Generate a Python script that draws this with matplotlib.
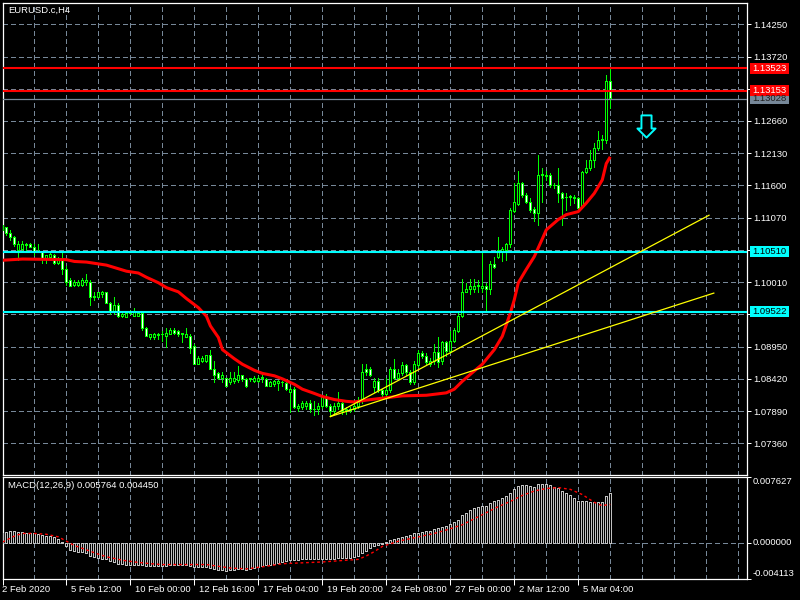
import matplotlib
matplotlib.use('Agg')
import matplotlib.pyplot as plt
import numpy as np
from matplotlib.path import Path
from matplotlib.patches import Rectangle
from matplotlib.transforms import blended_transform_factory, offset_copy, IdentityTransform

plt.rcParams['font.family'] = ['Liberation Sans', 'DejaVu Sans']

# ---------------- data ----------------
symbol_title = "EURUSD.c,H4"
macd_title = "MACD(12,26,9) 0.005764 0.004450"

opens = [1.1094, 1.1091, 1.1082, 1.1076, 1.1054, 1.1056, 1.1062, 1.1064, 1.1059, 1.1050,
         1.1051, 1.1041, 1.1043, 1.1046, 1.1033, 1.1040, 1.1023, 1.1004, 1.0997, 1.0997,
         1.0997, 1.1002, 1.1002, 1.0976, 1.0977, 1.0981, 1.0984, 1.0967, 1.0954, 1.0964,
         1.0945, 1.0943, 1.0951, 1.0946, 1.0946, 1.0951, 1.0925, 1.0910, 1.0910, 1.0914,
         1.0915, 1.0913, 1.0916, 1.0922, 1.0920, 1.0916, 1.0911, 1.0913, 1.0896, 1.0867,
         1.0871, 1.0871, 1.0881, 1.0859, 1.0851, 1.0844, 1.0843, 1.0836, 1.0838, 1.0840,
         1.0848, 1.0841, 1.0843, 1.0838, 1.0838, 1.0845, 1.0841, 1.0831, 1.0833, 1.0835,
         1.0836, 1.0835, 1.0820, 1.0825, 1.0794, 1.0795, 1.0798, 1.0803, 1.0792, 1.0792,
         1.0797, 1.0812, 1.0797, 1.0789, 1.0797, 1.0803, 1.0790, 1.0791, 1.0792, 1.0797,
         1.0805, 1.0859, 1.0859, 1.0828, 1.0839, 1.0823, 1.0817, 1.0823, 1.0858, 1.0844,
         1.0851, 1.0864, 1.0853, 1.0836, 1.0864, 1.0884, 1.0880, 1.0867, 1.0871, 1.0886,
         1.0871, 1.0902, 1.0887, 1.0905, 1.0921, 1.0945, 1.0985, 1.0989, 1.0989, 1.0995,
         1.0992, 1.0995, 1.0989, 1.1031, 1.1043, 1.1051, 1.1054, 1.1063, 1.1118, 1.1130,
         1.1164, 1.1145, 1.1133, 1.1122, 1.1115, 1.1177, 1.1176, 1.1177, 1.1161, 1.1161,
         1.1148, 1.1141, 1.1141, 1.1140, 1.1140, 1.1125, 1.1182, 1.1189, 1.1202, 1.1222,
         1.1235, 1.1235, 1.1332]
highs = [1.1095, 1.1092, 1.1087, 1.1077, 1.1068, 1.1068, 1.1066, 1.1066, 1.1063, 1.1063,
         1.1053, 1.1046, 1.1050, 1.1048, 1.1043, 1.1049, 1.1027, 1.1007, 1.1004, 1.1004,
         1.1007, 1.1015, 1.1005, 1.0985, 1.0985, 1.0987, 1.0985, 1.0969, 1.0977, 1.0967,
         1.0951, 1.0953, 1.0956, 1.0959, 1.0953, 1.0953, 1.0927, 1.0915, 1.0918, 1.0918,
         1.0920, 1.0926, 1.0926, 1.0925, 1.0922, 1.0918, 1.0926, 1.0915, 1.0899, 1.0879,
         1.0879, 1.0882, 1.0890, 1.0871, 1.0854, 1.0853, 1.0844, 1.0853, 1.0853, 1.0863,
         1.0849, 1.0844, 1.0844, 1.0846, 1.0846, 1.0849, 1.0843, 1.0838, 1.0840, 1.0840,
         1.0838, 1.0836, 1.0828, 1.0828, 1.0800, 1.0805, 1.0805, 1.0808, 1.0805, 1.0803,
         1.0813, 1.0817, 1.0800, 1.0803, 1.0821, 1.0805, 1.0795, 1.0795, 1.0800, 1.0812,
         1.0866, 1.0866, 1.0861, 1.0844, 1.0844, 1.0826, 1.0844, 1.0861, 1.0874, 1.0858,
         1.0869, 1.0867, 1.0856, 1.0871, 1.0890, 1.0887, 1.0884, 1.0877, 1.0899, 1.0910,
         1.0904, 1.0905, 1.0920, 1.0926, 1.0951, 1.1006, 1.1000, 1.1006, 1.1006, 1.1005,
         1.1051, 1.1000, 1.1035, 1.1043, 1.1075, 1.1059, 1.1066, 1.1123, 1.1164, 1.1184,
         1.1166, 1.1148, 1.1140, 1.1125, 1.1210, 1.1189, 1.1184, 1.1181, 1.1164, 1.1189,
         1.1150, 1.1148, 1.1145, 1.1145, 1.1141, 1.1184, 1.1202, 1.1218, 1.1230, 1.1250,
         1.1243, 1.1341, 1.1351]
lows = [1.1086, 1.1079, 1.1071, 1.1061, 1.1038, 1.1054, 1.1054, 1.1058, 1.1046, 1.1050,
        1.1033, 1.1033, 1.1041, 1.1031, 1.1031, 1.1015, 1.0997, 1.0994, 1.0995, 1.0994,
        1.0994, 1.0997, 1.0964, 1.0972, 1.0976, 1.0977, 1.0966, 1.0948, 1.0948, 1.0943,
        1.0943, 1.0943, 1.0948, 1.0945, 1.0945, 1.0922, 1.0912, 1.0908, 1.0908, 1.0907,
        1.0905, 1.0894, 1.0915, 1.0915, 1.0912, 1.0902, 1.0910, 1.0885, 1.0866, 1.0866,
        1.0869, 1.0869, 1.0858, 1.0836, 1.0841, 1.0836, 1.0830, 1.0833, 1.0835, 1.0836,
        1.0838, 1.0828, 1.0838, 1.0836, 1.0836, 1.0836, 1.0830, 1.0830, 1.0831, 1.0823,
        1.0830, 1.0823, 1.0787, 1.0794, 1.0789, 1.0792, 1.0792, 1.0787, 1.0782, 1.0784,
        1.0794, 1.0795, 1.0781, 1.0785, 1.0792, 1.0785, 1.0785, 1.0787, 1.0789, 1.0794,
        1.0803, 1.0849, 1.0846, 1.0820, 1.0820, 1.0813, 1.0813, 1.0820, 1.0841, 1.0841,
        1.0848, 1.0849, 1.0833, 1.0833, 1.0861, 1.0877, 1.0866, 1.0863, 1.0867, 1.0861,
        1.0867, 1.0879, 1.0885, 1.0903, 1.0919, 1.0943, 1.0984, 1.0981, 1.0985, 1.0984,
        1.0984, 1.0953, 1.0981, 1.1024, 1.1040, 1.1035, 1.1038, 1.1059, 1.1117, 1.1128,
        1.1141, 1.1131, 1.1117, 1.1102, 1.1095, 1.1133, 1.1169, 1.1158, 1.1156, 1.1133,
        1.1095, 1.1120, 1.1128, 1.1131, 1.1122, 1.1123, 1.1180, 1.1185, 1.1190, 1.1218,
        1.1220, 1.1230, 1.1287]
closes = [1.1089, 1.1081, 1.1076, 1.1064, 1.1064, 1.1064, 1.1063, 1.1059, 1.1051, 1.1053,
          1.1041, 1.1045, 1.1048, 1.1033, 1.1041, 1.1022, 1.1002, 1.0995, 1.1002, 1.1002,
          1.1004, 1.1004, 1.0976, 1.0979, 1.0984, 1.0984, 1.0967, 1.0953, 1.0964, 1.0946,
          1.0949, 1.0951, 1.0953, 1.0954, 1.0951, 1.0925, 1.0913, 1.0915, 1.0916, 1.0915,
          1.0916, 1.0918, 1.0923, 1.0918, 1.0915, 1.0917, 1.0916, 1.0893, 1.0867, 1.0877,
          1.0877, 1.0881, 1.0859, 1.0849, 1.0844, 1.0848, 1.0831, 1.0843, 1.0843, 1.0848,
          1.0841, 1.0830, 1.0842, 1.0843, 1.0843, 1.0844, 1.0831, 1.0836, 1.0838, 1.0838,
          1.0837, 1.0825, 1.0826, 1.0795, 1.0797, 1.0802, 1.0803, 1.0792, 1.0793, 1.0798,
          1.0812, 1.0797, 1.0789, 1.0797, 1.0803, 1.0789, 1.0792, 1.0792, 1.0797, 1.0807,
          1.0853, 1.0853, 1.0848, 1.0839, 1.0823, 1.0817, 1.0823, 1.0858, 1.0844, 1.0851,
          1.0864, 1.0853, 1.0836, 1.0867, 1.0884, 1.0879, 1.0869, 1.0872, 1.0886, 1.0869,
          1.0902, 1.0887, 1.0905, 1.0923, 1.0946, 1.0985, 1.0990, 1.0995, 1.0995, 1.0996,
          1.0995, 1.0989, 1.1031, 1.1026, 1.1054, 1.1056, 1.1064, 1.1120, 1.1132, 1.1164,
          1.1145, 1.1133, 1.1120, 1.1115, 1.1177, 1.1179, 1.1177, 1.1161, 1.1160, 1.1148,
          1.1140, 1.1141, 1.1142, 1.1140, 1.1123, 1.1182, 1.1189, 1.1202, 1.1222, 1.1235,
          1.1236, 1.1332, 1.1304]

# moving average (read at selected bars)
ma_bars = [0, 5, 16, 18, 21, 24, 26, 29, 31, 34, 36, 39, 41, 44, 46, 49, 51, 52, 54, 55,
           58, 60, 63, 65, 68, 70, 73, 75, 78, 80, 83, 86, 88, 91, 96, 100, 106, 111, 113,
           115, 118, 120, 123, 125, 127, 128, 129, 131, 133, 135, 136, 139, 141, 144, 146,
           148, 150, 151, 152]
ma_values = [1.1037, 1.1039, 1.1038, 1.1035, 1.1034, 1.1031, 1.1029, 1.1023, 1.1019, 1.1016,
             1.1009, 1.1000, 1.0992, 1.0985, 1.0974, 1.0959, 1.0945, 1.0929, 1.0910, 1.0890,
             1.0875, 1.0866, 1.0856, 1.0851, 1.0847, 1.0842, 1.0833, 1.0825, 1.0818, 1.0813,
             1.0808, 1.0805, 1.0804, 1.0807, 1.0811, 1.0814, 1.0815, 1.0819, 1.0825,
             1.0838, 1.0855, 1.0866, 1.0890, 1.0912, 1.0950, 1.0972, 1.1000, 1.1022, 1.1043,
             1.1072, 1.1087, 1.1104, 1.1112, 1.1117, 1.1131, 1.1147, 1.1169, 1.1196, 1.1207]

# MACD histogram (one value per bar) and signal line (read at selected bars)
macd_hist = [0.0012, 0.0013, 0.0014, 0.0014, 0.0013, 0.0013, 0.0012, 0.0012, 0.0011, 0.0010,
             0.0009, 0.0008, 0.0008, 0.0007, 0.0004, 0.0001, -0.0004, -0.0008, -0.0009, -0.0010,
             -0.0011, -0.0012, -0.0015, -0.0016, -0.0017, -0.0018, -0.0019, -0.0021, -0.0022, -0.0024,
             -0.0024, -0.0025, -0.0025, -0.0025, -0.0025, -0.0026, -0.0027, -0.0027, -0.0027, -0.0027,
             -0.0027, -0.0027, -0.0026, -0.0026, -0.0026, -0.0026, -0.0026, -0.0027, -0.0028, -0.0028,
             -0.0028, -0.0028, -0.0029, -0.0030, -0.0031, -0.0031, -0.0032, -0.0031, -0.0031, -0.0030,
             -0.0030, -0.0031, -0.0030, -0.0029, -0.0028, -0.0027, -0.0026, -0.0025, -0.0024, -0.0023,
             -0.0022, -0.0021, -0.0020, -0.0020, -0.0020, -0.0019, -0.0019, -0.0019, -0.0019, -0.0018,
             -0.0018, -0.0018, -0.0018, -0.0018, -0.0017, -0.0017, -0.0017, -0.0017, -0.0016, -0.0015,
             -0.0012, -0.0009, -0.0006, -0.0004, -0.0002, -0.0001, 0.0001, 0.0003, 0.0005, 0.0006,
             0.0007, 0.0008, 0.0009, 0.0011, 0.0012, 0.0013, 0.0014, 0.0014, 0.0016, 0.0017,
             0.0019, 0.0020, 0.0022, 0.0024, 0.0027, 0.0032, 0.0035, 0.0038, 0.0040, 0.0042,
             0.0043, 0.0043, 0.0046, 0.0048, 0.0050, 0.0052, 0.0054, 0.0058, 0.0062, 0.0066,
             0.0067, 0.0067, 0.0066, 0.0065, 0.0068, 0.0068, 0.0068, 0.0067, 0.0065, 0.0063,
             0.0060, 0.0058, 0.0055, 0.0052, 0.0048, 0.0049, 0.0048, 0.0047, 0.0047, 0.0047,
             0.0047, 0.0054, 0.0058]
signal_bars = [0, 3, 5, 8, 11, 14, 16, 18, 21, 24, 26, 30, 33, 37, 40, 46, 51, 54, 57, 61,
               66, 70, 75, 80, 86, 89, 91, 93, 95, 97, 99, 102, 105, 108, 111, 115, 118, 121,
               124, 127, 130, 133, 136, 139, 142, 145, 148, 150, 151, 152]
signal_values = [0.0001, 0.0008, 0.0011, 0.0011, 0.0010, 0.0007, 0.0002, -0.0003, -0.0008, -0.0013,
                 -0.0016, -0.0020, -0.0022, -0.0024, -0.0025, -0.0025, -0.0025, -0.0027, -0.0029, -0.0030,
                 -0.0027, -0.0024, -0.0023, -0.0022, -0.0020, -0.0019, -0.0015, -0.0010, -0.0004, -0.0001,
                 0.0002, 0.0005, 0.0008, 0.0011, 0.0015, 0.0021, 0.0028, 0.0035, 0.0042, 0.0048,
                 0.0055, 0.0060, 0.0063, 0.0064, 0.0062, 0.0056, 0.0047, 0.0043, 0.00440, 0.00445]

# horizontal levels
resistance_levels = [1.13523, 1.13153]
support_levels = [1.10510, 1.09522]
bid_price = 1.13028

# trend lines: (bar, price) start and end
trend_start = (82, 1.0780)
trend_ends = [(176.7, 1.1111), (177.9, 1.0983)]

# sell arrow
arrow_bar, arrow_price = 161, 1.1258

price_ticks = [1.14250, 1.13720, 1.13190, 1.12660, 1.12130, 1.11600, 1.11070,
               1.10540, 1.10010, 1.09480, 1.08950, 1.08420, 1.07890, 1.07360]
hidden_price_labels = [1.13190, 1.10540, 1.09480]   # covered by the level boxes
macd_ticks = [-0.004113, 0.0, 0.007627]
date_tick_bars = [0, 16, 32, 48, 64, 80, 96, 112, 128, 144]
date_labels = ["2 Feb 2020", "5 Feb 12:00", "10 Feb 00:00", "12 Feb 16:00", "17 Feb 04:00",
               "19 Feb 20:00", "24 Feb 08:00", "27 Feb 00:00", "2 Mar 12:00", "5 Mar 04:00"]

# ---------------- style ----------------
BG = 'black'
GREEN = '#00ff00'
GRID = '#778899'
FS = 6.8
W, H = 800, 600
PX = 0.72  # one pixel in points at 100 dpi

fig = plt.figure(figsize=(8, 6), dpi=100, facecolor=BG)


def rect(x0, y0, x1, y1):
    return [x0 / W, 1 - y1 / H, (x1 - x0) / W, (y1 - y0) / H]


ax = fig.add_axes(rect(2.5, 2.5, 747, 475), facecolor=BG)
axm = fig.add_axes(rect(2.5, 477, 747, 578.5), facecolor=BG)

XMIN, XMAX = 0.05, 186.2
for a in (ax, axm):
    a.set_xlim(XMIN, XMAX)
    for s in a.spines.values():
        s.set_color('white')
        s.set_linewidth(0.9)

ax.set_ylim(1.06839, 1.14608)
axm.set_ylim(-0.004113, 0.007627)

grid_kw = dict(color=GRID, linewidth=PX, linestyle=(0, (5, 3)), antialiased=False)

# main axis ticks / grid
ax.set_xticks(np.arange(0, 187, 8))
ax.tick_params(axis='x', length=0, labelbottom=False)
ax.yaxis.tick_right()
ax.set_yticks(price_ticks)
ax.set_yticklabels(["" if v in hidden_price_labels else f"{v:.5f}" for v in price_ticks])
ax.tick_params(axis='y', colors='white', length=2.9, width=PX, pad=1.3, labelsize=FS)
ax.grid(True, **grid_kw)
ax.set_axisbelow(True)

# candles
idx = np.arange(len(closes))
o = np.array(opens); hi = np.array(highs); lo = np.array(lows); c = np.array(closes)
bull = c >= o
ax.vlines(idx, lo, hi, color=GREEN, linewidth=PX, zorder=3, antialiased=False)
body_lo = np.minimum(o, c)
body_h = np.maximum(np.abs(c - o), 0.00003)
ax.bar(idx, body_h, bottom=body_lo, width=0.5,
       color=np.where(bull, 'black', 'white'), edgecolor=GREEN, linewidth=PX, zorder=4,
       antialiased=False)

# moving average
ax.plot(ma_bars, ma_values, color='#ff0000', linewidth=2.2, zorder=5, solid_capstyle='butt')

# horizontal levels
for lv in resistance_levels:
    ax.axhline(lv, color='#ff0000', linewidth=1.5, zorder=6)
for lv in support_levels:
    ax.axhline(lv, color='#00ffff', linewidth=1.5, zorder=6)
ax.axhline(bid_price, color=GRID, linewidth=0.9, zorder=5)

# trend lines
for ex, ey in trend_ends:
    ax.plot([trend_start[0], ex], [trend_start[1], ey], color='#ffff00', linewidth=0.9, zorder=6)

# sell arrow
arrow_path = Path([(-5, 11), (5, 11), (5, -2), (9, -2), (0, -11), (-9, -2), (-5, -2), (-5, 11)],
                  closed=True)
ax.plot([arrow_bar], [arrow_price], marker=arrow_path, markersize=16, markerfacecolor='black',
        markeredgecolor='#00ffff', markeredgewidth=1.4, zorder=7)

ax.text(6 / 745, 1 - 8 / 472.5, symbol_title, transform=ax.transAxes, color='white',
        fontsize=FS, ha='left', va='center')

# ---------------- MACD ----------------
axm.bar(idx, macd_hist, width=0.5, color='black', edgecolor='#c0c0c0', linewidth=PX, zorder=3,
        antialiased=False)
axm.plot(signal_bars, signal_values, color='#ff0000', linewidth=1.0, linestyle=(0, (2, 2)), zorder=4)
axm.axhline(0, **grid_kw, zorder=1)

axm.set_xticks(date_tick_bars)
axm.set_xticks([k for k in range(0, 187, 8) if k not in date_tick_bars], minor=True)
axm.tick_params(axis='x', which='major', colors='white', length=4, width=PX, direction='out',
                labelbottom=False)
axm.tick_params(axis='x', which='minor', length=0)
axm.grid(True, axis='x', which='both', **grid_kw)
axm.set_axisbelow(True)

axm.yaxis.tick_right()
axm.set_yticks(macd_ticks)
axm.tick_params(axis='y', colors='white', length=2.9, width=PX, labelright=False)
ytr = blended_transform_factory(axm.transAxes, axm.transData)
ytr = offset_copy(ytr, fig=fig, x=6, y=0, units='dots')
for v, va in zip(macd_ticks, ['bottom', 'center', 'top']):
    txt = f"{v:.6f}"
    axm.text(1.0, v, txt, transform=ytr, color='white', fontsize=FS, ha='left', va=va,
             clip_on=False)

axm.text(6 / 745, 1 - 9 / 101.5, macd_title, transform=axm.transAxes, color='white',
         fontsize=FS, ha='left', va='center')

xtr = blended_transform_factory(axm.transData, axm.transAxes)
for k, (b, lab) in enumerate(zip(date_tick_bars, date_labels)):
    dx = 0 if k == 0 else 5
    t = offset_copy(xtr, fig=fig, x=dx, y=-6, units='dots')
    axm.text(b, 0, lab, transform=t, color='white', fontsize=FS, ha='left', va='top',
             clip_on=False)

# ---------------- price labels on the axis ----------------
fig.canvas.draw()
ident = IdentityTransform()


def price_box(val, fc, tc):
    yd = ax.transData.transform((0, val))[1]
    fig.patches.append(Rectangle((750, yd - 5.5), 39, 11, transform=ident, facecolor=fc,
                                 edgecolor='none', zorder=10))
    fig.text(752, yd, f"{val:.5f}", transform=ident, color=tc, fontsize=FS, ha='left',
             va='center', zorder=11)


price_box(bid_price, GRID, '#202020')
for lv in resistance_levels:
    price_box(lv, '#ff0000', 'white')
for lv in support_levels:
    price_box(lv, '#00ffff', 'black')

fig.savefig('out.png', dpi=100, facecolor=BG)
